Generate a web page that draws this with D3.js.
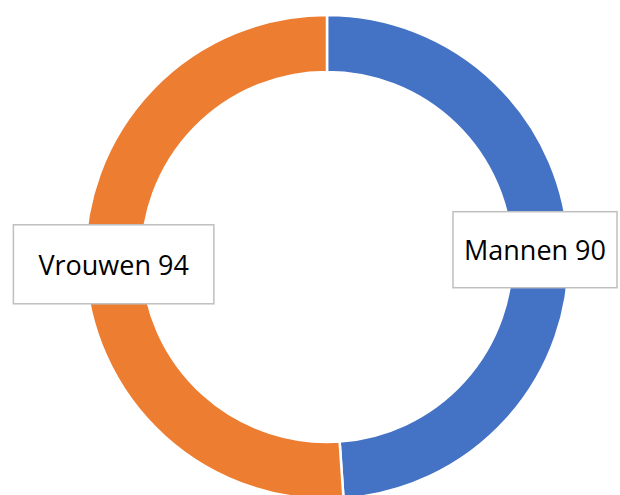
<!DOCTYPE html>
<html>
<head>
<meta charset="utf-8">
<script src="https://cdn.jsdelivr.net/npm/d3@7"></script>
<style>
html,body{margin:0;padding:0;background:#fff;}
svg{display:block;}
</style>
</head>
<body>
<svg id="chart" width="620" height="495"></svg>
<script>
const categories = ["Mannen", "Vrouwen"];
const values = [90, 94];
const colors = ["#4472C4", "#ED7D31"];

const W = 620, H = 495;
const cx = 327, cy = 257;
const outerR = 242, innerR = 185;
const labelR = (outerR + innerR) / 2;
const boxPad = [11, 25];
const boxH = [76, 79];

const svg = d3.select("#chart");
const g = svg.append("g").attr("transform", `translate(${cx},${cy})`);

const data = categories.map((c, i) => ({ name: c, value: values[i], color: colors[i] }));
const pie = d3.pie().sort(null).value(d => d.value);
const arc = d3.arc().innerRadius(innerR).outerRadius(outerR);
const arcs = pie(data);

g.selectAll("path.slice")
  .data(arcs)
  .enter().append("path")
  .attr("class", "slice")
  .attr("d", arc)
  .attr("fill", d => d.data.color)
  .attr("stroke", "#fff")
  .attr("stroke-width", 2.5);

const lg = svg.append("g");
arcs.forEach((a, i) => {
  const mid = (a.startAngle + a.endAngle) / 2;
  let x = cx + labelR * Math.sin(mid);
  let y = cy - labelR * Math.cos(mid);
  const t = lg.append("text")
    .attr("font-family", "'Open Sans', sans-serif")
    .attr("font-size", 27)
    .attr("fill", "#000")
    .attr("text-anchor", "middle")
    .attr("dominant-baseline", "central")
    .text(`${a.data.name} ${a.data.value}`);
  const tw = t.node().getComputedTextLength();
  const bw = tw + 2 * boxPad[i], bh = boxH[i];
  let left = x - bw / 2;
  if (left + bw > W - 3) left = W - 3 - bw;
  if (left < 3) left = 3;
  x = left + bw / 2;
  lg.insert("rect", "text")
    .attr("x", left).attr("y", y - bh / 2)
    .attr("width", bw).attr("height", bh)
    .attr("fill", "#fff")
    .attr("stroke", "#BFBFBF")
    .attr("stroke-width", 1.5);
  t.attr("x", x).attr("y", y);
});
</script>
</body>
</html>
